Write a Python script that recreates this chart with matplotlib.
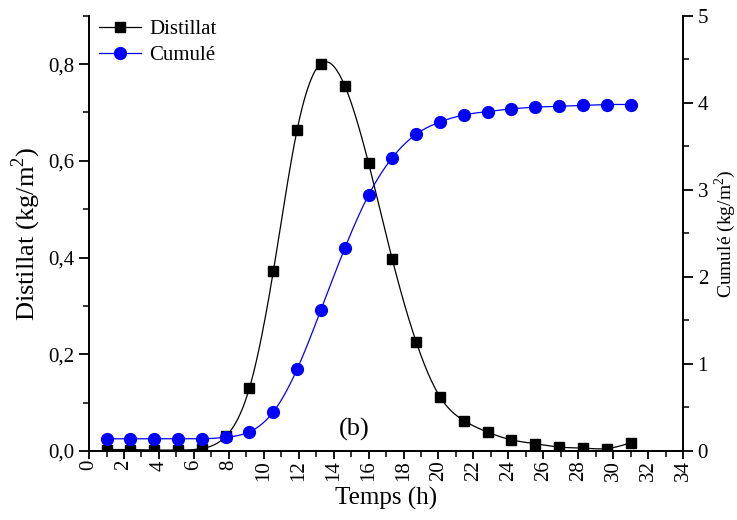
import numpy as np
import matplotlib.pyplot as plt
from matplotlib.ticker import MultipleLocator, FuncFormatter

plt.rcParams['font.family'] = ['Liberation Serif', 'DejaVu Serif']
plt.rcParams['mathtext.fontset'] = 'custom'
plt.rcParams['mathtext.rm'] = 'Liberation Serif'

# Données
temps = [1.0, 2.36, 3.73, 5.09, 6.45, 7.82, 9.18, 10.55, 11.91, 13.27, 14.64, 16.0,
         17.36, 18.73, 20.09, 21.45, 22.82, 24.18, 25.55, 26.91, 28.27, 29.64, 31.0]
distillat = [0.003, 0.003, 0.002, 0.002, 0.005, 0.03, 0.13, 0.372, 0.664, 0.801, 0.755, 0.595,
             0.396, 0.225, 0.112, 0.063, 0.039, 0.023, 0.015, 0.008, 0.006, 0.005, 0.017]
cumule = [0.14, 0.14, 0.14, 0.14, 0.14, 0.157, 0.22, 0.45, 0.94, 1.62, 2.33, 2.94,
          3.37, 3.64, 3.78, 3.86, 3.90, 3.93, 3.95, 3.96, 3.97, 3.98, 3.98]


def spline(x, y, n=400):
    # spline cubique naturelle pour le tracé lissé (style Origin)
    x, y = np.asarray(x), np.asarray(y)
    k = len(x)
    h = np.diff(x)
    A = np.zeros((k, k))
    r = np.zeros(k)
    A[0, 0] = A[-1, -1] = 1
    for i in range(1, k - 1):
        A[i, i - 1], A[i, i], A[i, i + 1] = h[i - 1], 2 * (h[i - 1] + h[i]), h[i]
        r[i] = 6 * ((y[i + 1] - y[i]) / h[i] - (y[i] - y[i - 1]) / h[i - 1])
    M = np.linalg.solve(A, r)
    xs = np.linspace(x[0], x[-1], n)
    j = np.clip(np.searchsorted(x, xs) - 1, 0, k - 2)
    t0, t1 = xs - x[j], x[j + 1] - xs
    ys = (M[j] * t1**3 + M[j + 1] * t0**3) / (6 * h[j]) \
        + (y[j] / h[j] - M[j] * h[j] / 6) * t1 + (y[j + 1] / h[j] - M[j + 1] * h[j] / 6) * t0
    return xs, ys


fig = plt.figure(figsize=(7.37, 5.2), dpi=100)
ax = fig.add_axes([0.1208, 0.1327, 0.806, 0.837])
ax2 = ax.twinx()

xs, ys = spline(temps, distillat)
ax.plot(xs, ys, color='black', lw=0.9)
ax.plot(temps, distillat, 's', color='black', ms=7.5, label='Distillat')
xs2, ys2 = spline(temps, cumule)
ax2.plot(xs2, ys2, color='blue', lw=0.9)
ax2.plot(temps, cumule, 'o', color='blue', ms=8.5, label='Cumulé')

ax.set_xlim(0, 34)
ax.set_ylim(0, 0.9)
ax2.set_ylim(0, 5)

ax.xaxis.set_major_locator(MultipleLocator(2))
ax.xaxis.set_minor_locator(MultipleLocator(1))
ax.yaxis.set_major_locator(MultipleLocator(0.2))
ax.yaxis.set_minor_locator(MultipleLocator(0.1))
ax2.yaxis.set_major_locator(MultipleLocator(1))
ax2.yaxis.set_minor_locator(MultipleLocator(0.5))
ax.yaxis.set_major_formatter(FuncFormatter(lambda v, p: f"{v:.1f}".replace('.', ',')))

for a in (ax, ax2):
    for s in a.spines.values():
        s.set_linewidth(1.4)
    a.spines['top'].set_visible(False)
    a.tick_params(which='major', direction='out', length=7, width=1.3, labelsize=15)
    a.tick_params(which='minor', direction='out', length=4, width=1.1)
ax.spines['right'].set_visible(False)
ax2.spines['left'].set_visible(False)
ax.tick_params(axis='x', which='major', labelrotation=90, labelsize=15, length=6, pad=0.5)

ax.set_xlabel('Temps (h)', fontsize=18)
ax.xaxis.set_label_coords(0.5, -0.082)
ax.set_ylabel('Distillat (kg/m$^2$)', fontsize=19, labelpad=4)
ax2.set_ylabel('Cumulé (kg/m$^2$)', fontsize=14, labelpad=3)

ax.text(15.2, 0.045, '(b)', fontsize=19, ha='center', va='center')

l1 = ['Distillat']
l2 = ['Cumulé']
h1 = [plt.Line2D([], [], color='black', marker='s', ms=7.5, lw=0.9)]
h2 = [plt.Line2D([], [], color='blue', marker='o', ms=8.5, lw=0.9)]
ax.legend(h1 + h2, l1 + l2, loc='upper left', bbox_to_anchor=(0.0, 1.015), frameon=False,
          fontsize=15, handlelength=2.0, borderaxespad=0.1, labelspacing=0.3, handletextpad=0.4)

fig.savefig('out.png', dpi=100)
